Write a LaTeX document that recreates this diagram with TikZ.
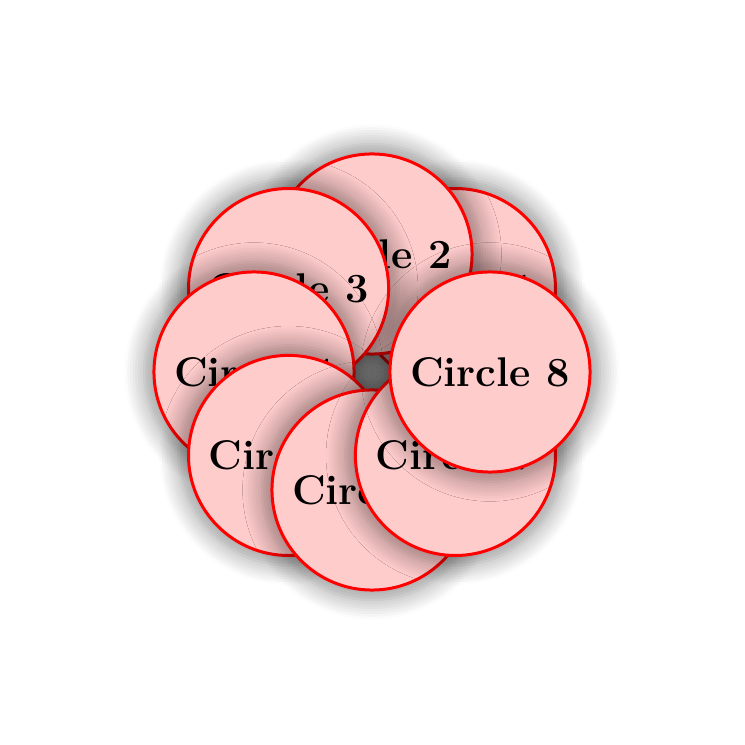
\documentclass[tikz,border=0pt]{standalone}
\usetikzlibrary{shadows.blur}
\begin{document}
\begin{tikzpicture}[x=0.01cm,y=0.01cm,
  circ/.style={circle,draw=red,fill=red!20,line width=0.85pt,minimum size=2cm,inner sep=0pt,
    font=\fontsize{11.8}{14}\selectfont\bfseries,
    blur shadow={shadow xshift=0pt,shadow yshift=0pt,shadow scale=1.1,shadow blur radius=5pt,shadow blur steps=8}}]
\useasboundingbox (0,0) rectangle (745,745);
\foreach \i in {1,...,8}{
  \node[circ] (c\i) at ({372+118*cos(45*\i)},{373+118*sin(45*\i)}) {Circle \i};
}
\end{tikzpicture}
\end{document}
